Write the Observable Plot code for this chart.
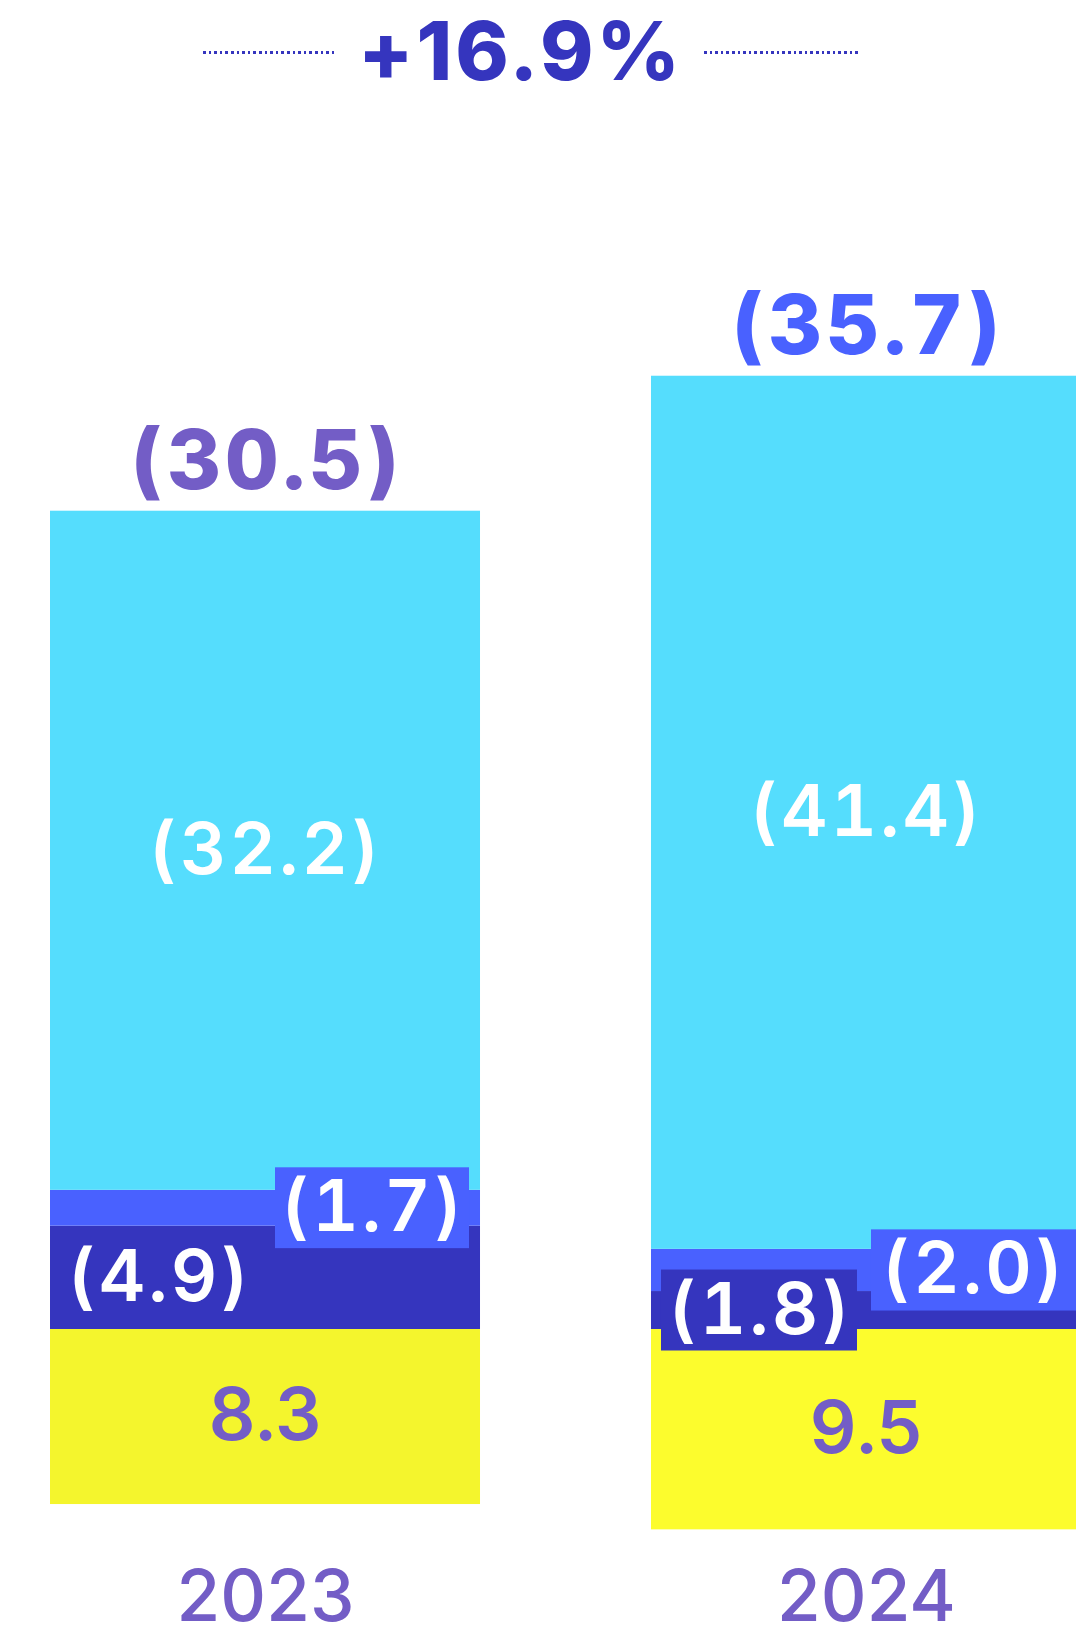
<!DOCTYPE html>
<html>
<head>
<meta charset="utf-8">
<script src="https://cdn.jsdelivr.net/npm/d3@7"></script>
<script src="https://cdn.jsdelivr.net/npm/@observablehq/plot@0.6"></script>
<style>
  html, body { margin: 0; padding: 0; background: #fff; overflow: hidden; }
  #head { position: relative; width: 1076px; height: 110px; }
  .dots { position: absolute; height: 2.6px;
    background: repeating-linear-gradient(90deg, #3535BE 0 2.6px, transparent 2.6px 5.6px); }
  #growth { position: absolute; left: 358px; top: 11px; white-space: nowrap;
    font-family: Inter, "Noto Sans", sans-serif; font-weight: 800; font-size: 81px;
    line-height: 1; color: #3535BE; letter-spacing: 3px; }
  #chart svg { display: block; }
  /* letter spacing for the value labels (Plot has no letterSpacing option) */
  #chart g[font-size="83"] { letter-spacing: 4px; }
  #chart text[font-size="72"] { letter-spacing: 3px; }
</style>
</head>
<body>
<div id="head">
  <div class="dots" style="left:203px; top:51px; width:134px"></div>
  <div id="growth"></div>
  <div class="dots" style="left:704px; top:51px; width:157px"></div>
</div>
<div id="chart"></div>
<script>
// ---- data ----
const years = ["2023", "2024"];
const series = ["Contribution", "Cost A", "Cost B", "Cost C"];
const values2023 = [8.3, -4.9, -1.7, -32.2];
const values2024 = [9.5, -1.8, -2.0, -41.4];
const totals = [-30.5, -35.7];
const growth = "+16.9%";

// ---- build table ----
const valuesByYear = {"2023": values2023, "2024": values2024};
const rows = [];
years.forEach(y => series.forEach((s, i) => rows.push({year: y, series: s, value: valuesByYear[y][i]})));

const fmt = v => v < 0 ? `(${Math.abs(v).toFixed(1)})` : v.toFixed(1);

// ---- styles ----
const PURPLE = "#735DC6", CYAN = "#55DDFD", BLUE = "#4961FF", DARK = "#3535BE";
const yellowByYear = {"2023": "#F4F52D", "2024": "#FCFC2D"};
const colorOf = d => d.series === series[0] ? yellowByYear[d.year]
  : d.series === series[1] ? DARK : d.series === series[2] ? BLUE : CYAN;
const totalColor = {"2023": PURPLE, "2024": BLUE};
// label placement: c = centered, l = left, r = right
const place = {
  "2023": ["c", "l", "r", "c"],
  "2024": ["c", "l", "r", "c"]
};
const sideOf = d => place[d.year][series.indexOf(d.series)];

document.getElementById("growth").textContent = growth;

const stackOpts = extra => Plot.stackY({x: "year", y: "value", ...extra});
const isKey = k => d => `${d.year}|${d.series}` === k;

const FONT = "Inter, 'Noto Sans', sans-serif";

const boxMark = (key, fill, inset) =>
  Plot.barY(rows, Plot.filter(isKey(key), stackOpts({fill, ...inset})));

const labelMark = (side, dx) =>
  Plot.text(rows, Plot.filter(d => sideOf(d) === side, stackOpts({
    text: d => fmt(d.value),
    dx,
    fill: d => d.series === series[0] ? PURPLE : "#ffffff",
    fontSize: d => d.series === series[0] ? 73 : 72,
    fontWeight: 600,
    fontVariant: "tabular-nums",
    lineAnchor: "middle"
  })));

const chart = Plot.plot({
  width: 1076,
  height: 1519,
  marginTop: 0, marginLeft: 0, marginRight: 0, marginBottom: 60,
  style: {fontFamily: FONT, overflow: "hidden", background: "#fff"},
  x: {domain: years, range: [50, 1081], paddingInner: 0.2845, paddingOuter: 0, round: false, axis: null},
  y: {domain: [-55, 15], range: [59.05, 1535.35], axis: null},
  color: {type: "identity"},
  marks: [
    Plot.barY(rows, stackOpts({fill: colorOf})),
    boxMark("2023|Cost B", BLUE, {insetLeft: 225, insetRight: 11, insetTop: -22.5, insetBottom: -22.5}),
    boxMark("2024|Cost A", DARK, {insetLeft: 10, insetRight: 224, insetTop: -21.5, insetBottom: -21.5}),
    boxMark("2024|Cost B", BLUE, {insetLeft: 220, insetRight: 5, insetTop: -19.5, insetBottom: -19.5}),
    labelMark("c", 0),
    labelMark("l", -106),
    labelMark("r", 107.5),
    Plot.text(rows, Plot.filter(d => d.series === series[3], Plot.stackY2({
      x: "year", y: "value",
      text: d => fmt(totals[years.indexOf(d.year)]),
      fill: d => totalColor[d.year],
      fontSize: 83, fontWeight: 800,
      fontVariant: "tabular-nums",
      lineAnchor: "bottom", dy: -22, dx: 1.5
    }))),
    Plot.axisX({anchor: "bottom", tickSize: 0, tickPadding: 1, fontSize: 71, fontWeight: 500,
      color: PURPLE, label: null})
  ]
});
document.getElementById("chart").appendChild(chart);
</script>
</body>
</html>
